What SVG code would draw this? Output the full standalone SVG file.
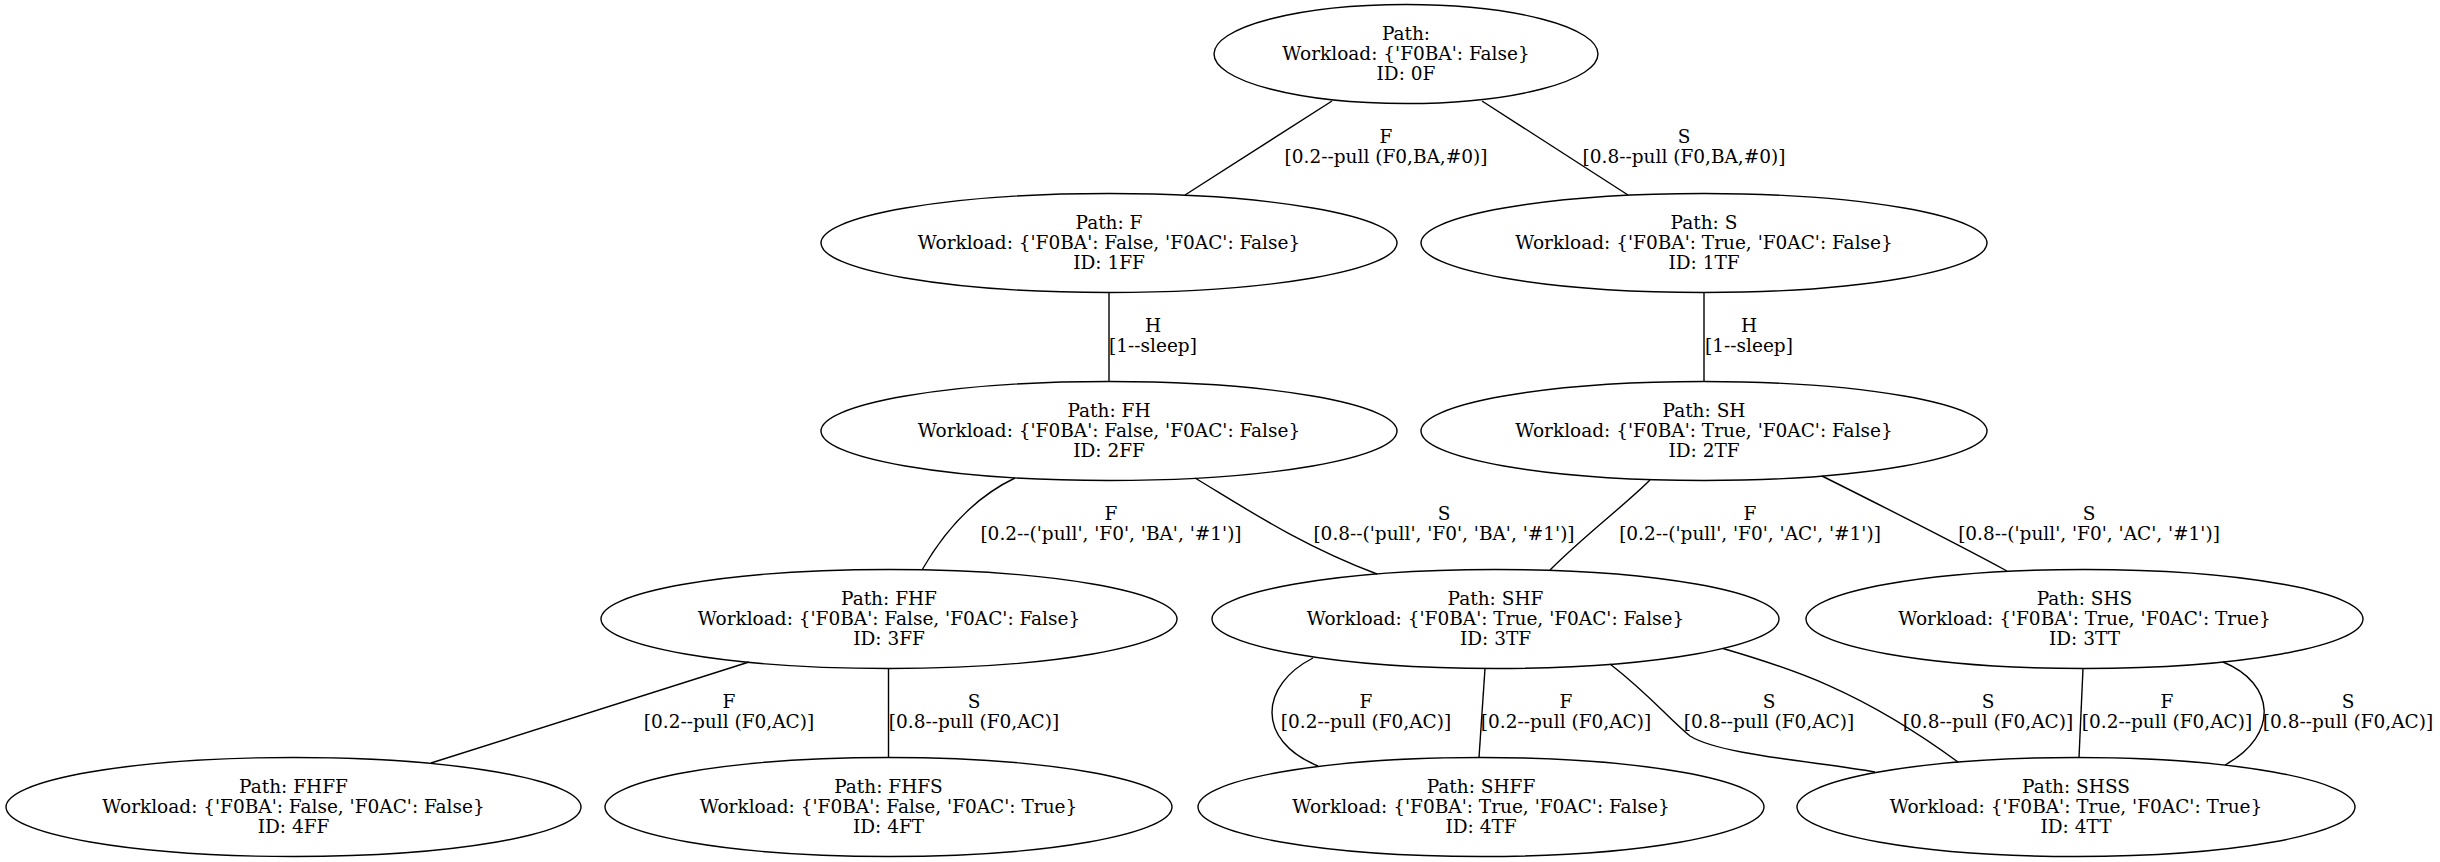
<svg xmlns="http://www.w3.org/2000/svg" width="2440" height="862" viewBox="0 0 2440 862">
<style>
  .bg { fill: #ffffff; }
  ellipse { fill: none; stroke: #000; stroke-width: 1.4; }
  .edge { fill: none; stroke: #000; stroke-width: 1.4; }
  text { font-family: "DejaVu Serif", serif; font-size: 18.5px; fill: #000; text-anchor: middle; }
</style>
<rect class="bg" x="0" y="0" width="2440" height="862"/>
<g id="connectors">
  <path class="edge" d="M1332,101 L1185,195"/>
  <path class="edge" d="M1482,101 L1628,195"/>
  <path class="edge" d="M1109,292.5 L1109,381.5"/>
  <path class="edge" d="M1704,292.5 L1704,381.5"/>
  <path class="edge" d="M1015,478 C975,497 945,530 922,570"/>
  <path class="edge" d="M1195,478 C1245,508 1300,545 1377,574"/>
  <path class="edge" d="M1650,480 C1625,505 1585,535 1550,570"/>
  <path class="edge" d="M1822,476 C1880,505 1950,540 2007,571"/>
  <path class="edge" d="M749,662 L431,763"/>
  <path class="edge" d="M888.5,668.5 L888.5,757.5"/>
  <path class="edge" d="M1313,658 C1260,685 1255,740 1318,766"/>
  <path class="edge" d="M1485,668.5 L1479,757.5"/>
  <path class="edge" d="M1610,664 C1650,695 1670,720 1690,736 C1720,755 1820,762 1875,772"/>
  <path class="edge" d="M1723,648.5 C1790,668 1860,690 1958,762"/>
  <path class="edge" d="M2083,668.5 L2079,757.5"/>
  <path class="edge" d="M2223,662 C2275,683 2280,735 2225,765"/>
  <g id="edge-labels">
    <text x="1386" y="142.5">F</text><text x="1386" y="162.5">[0.2--pull (F0,BA,#0)]</text>
    <text x="1684" y="142.5">S</text><text x="1684" y="162.5">[0.8--pull (F0,BA,#0)]</text>
    <text x="1153" y="331.5">H</text><text x="1153" y="351.5">[1--sleep]</text>
    <text x="1749" y="331.5">H</text><text x="1749" y="351.5">[1--sleep]</text>
    <text x="1111" y="519.5">F</text><text x="1111" y="539.5">[0.2--('pull', 'F0', 'BA', '#1')]</text>
    <text x="1444" y="519.5">S</text><text x="1444" y="539.5">[0.8--('pull', 'F0', 'BA', '#1')]</text>
    <text x="1750" y="519.5">F</text><text x="1750" y="539.5">[0.2--('pull', 'F0', 'AC', '#1')]</text>
    <text x="2089" y="519.5">S</text><text x="2089" y="539.5">[0.8--('pull', 'F0', 'AC', '#1')]</text>
    <text x="729" y="707.5">F</text><text x="729" y="727.5">[0.2--pull (F0,AC)]</text>
    <text x="974" y="707.5">S</text><text x="974" y="727.5">[0.8--pull (F0,AC)]</text>
    <text x="1366" y="707.5">F</text><text x="1366" y="727.5">[0.2--pull (F0,AC)]</text>
    <text x="1566" y="707.5">F</text><text x="1566" y="727.5">[0.2--pull (F0,AC)]</text>
    <text x="1769" y="707.5">S</text><text x="1769" y="727.5">[0.8--pull (F0,AC)]</text>
    <text x="1988" y="707.5">S</text><text x="1988" y="727.5">[0.8--pull (F0,AC)]</text>
    <text x="2167" y="707.5">F</text><text x="2167" y="727.5">[0.2--pull (F0,AC)]</text>
    <text x="2348" y="707.5">S</text><text x="2348" y="727.5">[0.8--pull (F0,AC)]</text>
  </g>
</g>
<g id="node-0F">
  <ellipse cx="1406" cy="54" rx="192" ry="49.5"/>
  <text x="1406" y="39.5">Path:</text><text x="1406" y="59.5">Workload: {'F0BA': False}</text><text x="1406" y="79.5">ID: 0F</text>
</g>
<g id="node-1FF">
  <ellipse cx="1109" cy="243" rx="288" ry="49.5"/>
  <text x="1109" y="228.5">Path: F</text><text x="1109" y="248.5">Workload: {'F0BA': False, 'F0AC': False}</text><text x="1109" y="268.5">ID: 1FF</text>
</g>
<g id="node-1TF">
  <ellipse cx="1704" cy="243" rx="283" ry="49.5"/>
  <text x="1704" y="228.5">Path: S</text><text x="1704" y="248.5">Workload: {'F0BA': True, 'F0AC': False}</text><text x="1704" y="268.5">ID: 1TF</text>
</g>
<g id="node-2FF">
  <ellipse cx="1109" cy="431" rx="288" ry="49.5"/>
  <text x="1109" y="416.5">Path: FH</text><text x="1109" y="436.5">Workload: {'F0BA': False, 'F0AC': False}</text><text x="1109" y="456.5">ID: 2FF</text>
</g>
<g id="node-2TF">
  <ellipse cx="1704" cy="431" rx="283" ry="49.5"/>
  <text x="1704" y="416.5">Path: SH</text><text x="1704" y="436.5">Workload: {'F0BA': True, 'F0AC': False}</text><text x="1704" y="456.5">ID: 2TF</text>
</g>
<g id="node-3FF">
  <ellipse cx="889" cy="619" rx="288" ry="49.5"/>
  <text x="889" y="604.5">Path: FHF</text><text x="889" y="624.5">Workload: {'F0BA': False, 'F0AC': False}</text><text x="889" y="644.5">ID: 3FF</text>
</g>
<g id="node-3TF">
  <ellipse cx="1495.5" cy="619" rx="283.5" ry="49.5"/>
  <text x="1495.5" y="604.5">Path: SHF</text><text x="1495.5" y="624.5">Workload: {'F0BA': True, 'F0AC': False}</text><text x="1495.5" y="644.5">ID: 3TF</text>
</g>
<g id="node-3TT">
  <ellipse cx="2084.5" cy="619" rx="278.5" ry="49.5"/>
  <text x="2084.5" y="604.5">Path: SHS</text><text x="2084.5" y="624.5">Workload: {'F0BA': True, 'F0AC': True}</text><text x="2084.5" y="644.5">ID: 3TT</text>
</g>
<g id="node-4FF">
  <ellipse cx="293.5" cy="807" rx="287.5" ry="49.5"/>
  <text x="293.5" y="792.5">Path: FHFF</text><text x="293.5" y="812.5">Workload: {'F0BA': False, 'F0AC': False}</text><text x="293.5" y="832.5">ID: 4FF</text>
</g>
<g id="node-4FT">
  <ellipse cx="888.5" cy="807" rx="283.5" ry="49.5"/>
  <text x="888.5" y="792.5">Path: FHFS</text><text x="888.5" y="812.5">Workload: {'F0BA': False, 'F0AC': True}</text><text x="888.5" y="832.5">ID: 4FT</text>
</g>
<g id="node-4TF">
  <ellipse cx="1481" cy="807" rx="283" ry="49.5"/>
  <text x="1481" y="792.5">Path: SHFF</text><text x="1481" y="812.5">Workload: {'F0BA': True, 'F0AC': False}</text><text x="1481" y="832.5">ID: 4TF</text>
</g>
<g id="node-4TT">
  <ellipse cx="2076" cy="807" rx="279" ry="49.5"/>
  <text x="2076" y="792.5">Path: SHSS</text><text x="2076" y="812.5">Workload: {'F0BA': True, 'F0AC': True}</text><text x="2076" y="832.5">ID: 4TT</text>
</g>
</svg>
